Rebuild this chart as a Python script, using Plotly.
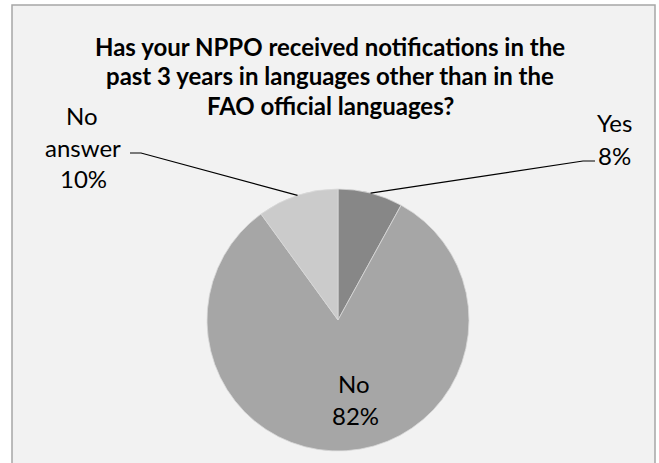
import math
import plotly.graph_objects as go

# ---- data ----
categories = ["Yes", "No", "No answer"]
values = [8, 82, 10]
pct_labels = ["8%", "82%", "10%"]
colors = ["#878787", "#a6a6a6", "#cbcbcb"]
title_lines = [
    "Has your NPPO received notifications in the",
    "past 3 years in languages other than in the",
    "FAO official languages?",
]

W, H = 659, 463
FONT = "Lato, Calibri, sans-serif"

# pie geometry (pixels)
cx, cy, R = 338, 320, 131


def px(x):
    return x / W


def py(y):
    return 1 - y / H


fig = go.Figure(
    go.Pie(
        labels=categories,
        values=values,
        sort=False,
        direction="clockwise",
        rotation=0,
        marker=dict(colors=colors, line=dict(color="#d9d9d9", width=0.8)),
        textinfo="none",
        hoverinfo="label+percent",
        showlegend=False,
        domain=dict(x=[px(cx - R), px(cx + R)], y=[py(cy + R), py(cy - R)]),
    )
)

# leader line start points derived from slice mid-angles
total = sum(values)
cum = 0
mid_pts = []
for v in values:
    mid = (cum + v / 2) / total * 2 * math.pi
    mid_pts.append((cx + R * math.sin(mid), cy - R * math.cos(mid)))
    cum += v

shapes = [
    # chart area background + border
    dict(type="rect", xref="paper", yref="paper",
         x0=px(12), x1=px(655), y0=py(475), y1=py(5),
         fillcolor="#f2f2f2", line=dict(color="#a6a6a6", width=1.5), layer="below"),
]

# Yes leader
yx, yy = mid_pts[0]
shapes.append(dict(type="path", xref="paper", yref="paper",
                   path=f"M {px(yx)},{py(yy)} L {px(583)},{py(161)} L {px(595)},{py(161)}",
                   line=dict(color="black", width=1.2)))
# No answer leader
nx, ny = mid_pts[2]
shapes.append(dict(type="path", xref="paper", yref="paper",
                   path=f"M {px(nx)},{py(ny)} L {px(141)},{py(153)} L {px(130)},{py(153)}",
                   line=dict(color="black", width=1.2)))

annotations = []
for i, (line, yline) in enumerate(zip(title_lines, [46, 76, 105])):
    annotations.append(dict(text=f"<b>{line}</b>", x=px(330), y=py(yline),
                            xref="paper", yref="paper", showarrow=False,
                            xanchor="center", yanchor="middle",
                            font=dict(family=FONT, size=24, color="black")))


def label(text, x, y):
    annotations.append(dict(text=text, x=px(x), y=py(y), xref="paper", yref="paper",
                            showarrow=False, xanchor="center", yanchor="middle",
                            font=dict(family=FONT, size=24, color="black")))


label(categories[0], 614, 122)
label(pct_labels[0], 614, 155)
label(categories[1], 354, 383)
label(pct_labels[1], 355, 415)
label("No", 82, 116)
label("answer", 83, 147)
label(pct_labels[2], 83, 178)

fig.update_layout(
    width=W, height=H,
    margin=dict(l=0, r=0, t=0, b=0),
    paper_bgcolor="white",
    plot_bgcolor="white",
    shapes=shapes,
    annotations=annotations,
)

fig.write_html("out.html")
